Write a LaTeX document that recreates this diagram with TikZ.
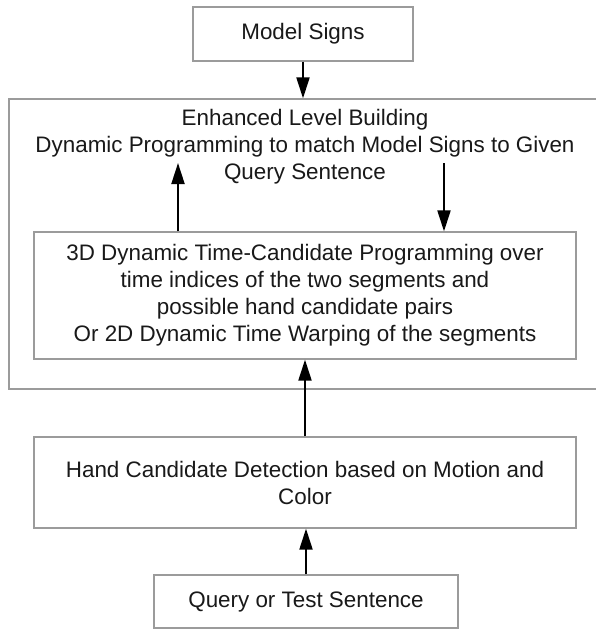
\documentclass[tikz,border=0pt]{standalone}
\usepackage{fontspec}
\setmainfont{Liberation Sans}
\usetikzlibrary{arrows.meta}
\definecolor{boxgray}{RGB}{155,155,155}
\definecolor{txt}{RGB}{25,25,25}
\begin{document}
\begin{tikzpicture}[x=1pt,y=-1pt,
  box/.style={draw=boxgray,line width=1.3pt,rectangle,inner sep=0pt,align=center,text=txt,
    font=\fontsize{22.4}{27}\selectfont},
  arr/.style={draw=black,line width=2pt,-{Triangle[length=21pt,width=13pt]}},
  lbl/.style={inner sep=0pt,align=center,text=txt,font=\fontsize{22.4}{27}\selectfont}]
\useasboundingbox[fill=white] (0,0) rectangle (596,630);
% outer container
\node[box,minimum width=591pt,minimum height=290pt] (elb) at (304.5,244) {};
\node[lbl] (elbtext) at (305,147) {Enhanced Level Building\\Dynamic Programming to match Model Signs to Given\\Query Sentence};
% boxes
\node[box,minimum width=220pt,minimum height=54pt] (ms) at (303,34) {Model Signs};
\node[box,minimum width=542pt,minimum height=127pt] (dtc) at (305,295.5) {3D Dynamic Time-Candidate Programming over\\time indices of the two segments and\\possible hand candidate pairs\\Or 2D Dynamic Time Warping of the segments};
\node[box,minimum width=542pt,minimum height=91pt] (hcd) at (305,482.5) {Hand Candidate Detection based on Motion and\\Color};
\node[box,minimum width=304pt,minimum height=53pt] (qts) at (306,601.5) {Query or Test Sentence};
% connectors
\coordinate (up) at (178,163);
\coordinate (dn) at (444,163);
\draw[arr] (ms.south) -- (ms.south |- elb.north);
\draw[arr] (dtc.north -| up) -- (up);
\draw[arr] (dn) -- (dtc.north -| dn);
\draw[arr] (hcd.north) -- (hcd.north |- dtc.south);
\draw[arr] (qts.north) -- (qts.north |- hcd.south);
\end{tikzpicture}
\end{document}
